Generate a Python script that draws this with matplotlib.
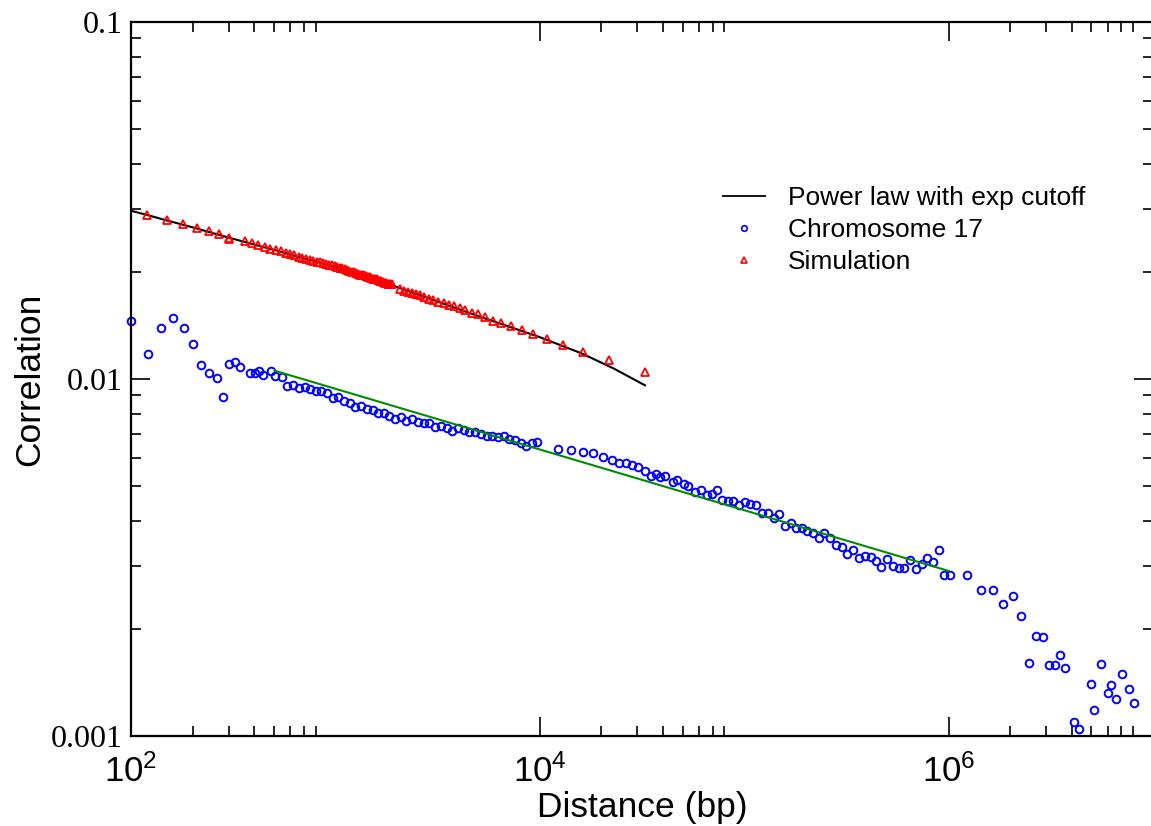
import matplotlib
matplotlib.use("Agg")
import matplotlib.pyplot as plt
from matplotlib.lines import Line2D
from matplotlib.ticker import FixedLocator, LogLocator, NullFormatter

plt.rcParams['font.family'] = ['Liberation Sans', 'DejaVu Sans']
plt.rcParams['mathtext.fontset'] = 'custom'
plt.rcParams['mathtext.rm'] = 'Liberation Sans'

# === Data ===
# power law with exponential cutoff (fit curve)
fit_curve_x = [100, 120, 150, 200, 300, 500, 1000, 2000, 5000, 10000, 16000, 23000, 32700]
fit_curve_y = [0.0296, 0.0288, 0.0278, 0.0266, 0.0249, 0.0230, 0.0206, 0.0181, 0.0150,
               0.0131, 0.0118, 0.0107, 0.0096]

# straight power-law fit through the chromosome data
green_x = [504, 1.0e6]
green_y = [0.01055, 0.0029]

# simulation
sim_x = [120, 150, 180, 210, 240, 270, 300, 303, 362, 390, 420,
         450, 480, 510, 540, 570, 600, 630, 660, 690, 720, 750, 780, 810, 840, 870,
         900, 930, 960, 990, 1020, 1050, 1080, 1110, 1140, 1170, 1200, 1230, 1260,
         1290, 1320, 1350, 1380, 1410, 1440, 1470, 1500, 1530, 1560, 1590, 1620,
         1650, 1680, 1710, 1740, 1770, 1800, 1830, 1860, 1890,
         2060, 2160, 2260, 2370, 2480, 2590, 2710, 2860, 3000, 3180, 3380, 3610,
         3810, 4050, 4300, 4640, 5000, 5410, 5920, 6480, 7220, 8150, 9300, 10800,
         13000, 16200, 21700, 32700]
sim_y = [0.0288, 0.0279, 0.0271, 0.0264, 0.0260, 0.0254, 0.0249, 0.0246, 0.0244, 0.0241, 0.0237,
         0.0235, 0.0232, 0.0230, 0.0228, 0.0226, 0.0224, 0.0222, 0.0220, 0.0218, 0.0217,
         0.0216, 0.0214, 0.0213, 0.0212, 0.0211, 0.0210, 0.0209, 0.0208, 0.0207, 0.0206,
         0.0205, 0.0204, 0.0203, 0.0202, 0.0201, 0.0200, 0.0199, 0.0198, 0.0197, 0.0196,
         0.0196, 0.0195, 0.0194, 0.0193, 0.0193, 0.0192, 0.0191, 0.0190, 0.0190, 0.0189,
         0.0188, 0.0188, 0.0187, 0.0186, 0.0186, 0.0185, 0.0185, 0.0184, 0.0184,
         0.01786, 0.01767, 0.01755, 0.01738, 0.01727, 0.01716, 0.01697, 0.01679, 0.01665,
         0.01646, 0.01629, 0.01608, 0.01598, 0.01581, 0.01560, 0.01533, 0.01517, 0.01494,
         0.01456, 0.01432, 0.01410, 0.01369, 0.01334, 0.01291, 0.01245, 0.01190, 0.01132,
         0.01048]

# chromosome 17
chr_x = [100, 121, 140, 161, 181, 202, 221, 241, 262, 282, 301, 323, 343, 381, 402, 424,
         444, 482, 504, 546, 582, 623, 664, 708, 749, 802, 848, 905, 969, 1032, 1105,
         1175, 1252, 1335, 1423, 1524, 1612, 1726, 1839, 1961, 2083, 2221, 2369, 2535,
         2701, 2871, 3083, 3300, 3503, 3737, 3986, 4246, 4529, 4810, 5129, 5491, 5856,
         6238, 6655, 7099, 7559, 8065, 8602, 9134, 9743, 12220, 14250, 16270, 18280,
         20330, 22580, 24450, 26460, 28320, 30310, 32690, 34830, 36870, 38880, 40810,
         44880, 46950, 51020, 53190, 57310, 61340, 65420, 69470, 73840, 77800, 82970,
         87810, 94280, 100600, 107300, 114800, 122300, 130500, 139200, 147700, 158100,
         168700, 178500, 191000, 202800, 217100, 231500, 246700, 263100, 281700, 300400,
         320100, 341500, 364100, 388000, 415200, 439300, 468800, 501600, 532300, 569800,
         607700, 648300, 690900, 739300, 785900, 837400, 893200, 952600, 1.0195e6,
         1.236e6, 1.441e6, 1.645e6, 1.849e6, 2.056e6, 2.266e6, 2.481e6, 2.676e6,
         2.897e6, 3.09e6, 3.307e6, 3.499e6, 3.715e6, 4.128e6, 4.338e6, 4.969e6,
         5.158e6, 5.584e6, 5.997e6, 6.203e6, 6.616e6, 7.027e6, 7.663e6, 8.08e6]
chr_y = [0.01451, 0.01175, 0.01387, 0.01479, 0.01392, 0.01251, 0.01094, 0.01039, 0.01006,
         0.00890, 0.01104, 0.01118, 0.01083, 0.01041, 0.01039, 0.01055, 0.01026, 0.01055,
         0.01018, 0.01011, 0.00958, 0.00962, 0.00945, 0.00948, 0.00938, 0.00924, 0.00926,
         0.00916, 0.00885, 0.00890, 0.00868, 0.00855, 0.00835, 0.00842, 0.00824, 0.00819,
         0.00801, 0.00801, 0.00788, 0.00771, 0.00784, 0.00764, 0.00771, 0.00758, 0.00754,
         0.00751, 0.00732, 0.00740, 0.00728, 0.00716, 0.00729, 0.00718, 0.00710, 0.00712,
         0.00702, 0.00694, 0.00694, 0.00688, 0.00692, 0.00679, 0.00676, 0.00663, 0.00648,
         0.00660, 0.00666, 0.00638, 0.00632, 0.00623, 0.00619, 0.00603, 0.00593, 0.00582,
         0.00582, 0.00574, 0.00567, 0.00551, 0.00536, 0.00541, 0.00531, 0.00536, 0.00515,
         0.00520, 0.00509, 0.00502, 0.00483, 0.00489, 0.00472, 0.00476, 0.00489, 0.00457,
         0.00456, 0.00454, 0.00444, 0.00451, 0.00447, 0.00443, 0.00421, 0.00421, 0.00409,
         0.00418, 0.00388, 0.00396, 0.00383, 0.00382, 0.00374, 0.00371, 0.00358, 0.00370,
         0.00359, 0.00343, 0.00338, 0.00324, 0.00331, 0.00316, 0.00319, 0.00317, 0.00310,
         0.00297, 0.00313, 0.00300, 0.00296, 0.00296, 0.00311, 0.00294, 0.00303, 0.00316,
         0.00307, 0.00331, 0.00283, 0.00283, 0.00282, 0.00256, 0.00256, 0.00235, 0.00247,
         0.00217, 0.00160, 0.00191, 0.00189, 0.00158, 0.00158, 0.00169, 0.00155, 0.001094,
         0.001048, 0.001396, 0.00118, 0.001588, 0.001322, 0.001392, 0.001272, 0.001489,
         0.001357, 0.001234]

x_major = [1e2, 1e4, 1e6]
x_tick_labels = [r'$\mathrm{10^{2}}$', r'$\mathrm{10^{4}}$', r'$\mathrm{10^{6}}$']
y_major = [0.001, 0.01, 0.1]
y_tick_labels = ['0.001', '0.01', '0.1']

# === Plot ===
W, H = 1151, 826
fig = plt.figure(figsize=(W / 100, H / 100), dpi=100)
ax = fig.add_axes([131 / W, 1 - 736 / H, (1153 - 131) / W, (736 - 22) / H])

ax.plot(fit_curve_x, fit_curve_y, '-', color='black', lw=1.5, zorder=3)
ax.plot(green_x, green_y, '-', color='#008c00', lw=1.5, zorder=3)
ax.plot(chr_x, chr_y, 'o', ls='none', mfc='none', mec='blue', ms=5.5, mew=1.4,
        clip_on=False, zorder=2)
ax.plot(sim_x, sim_y, '^', ls='none', mfc='none', mec='red', ms=6, mew=1.3,
        clip_on=False, zorder=4)

ax.set_xscale('log')
ax.set_yscale('log')
ax.set_xlim(1e2, 1e7)
ax.set_ylim(1e-3, 1e-1)

ax.set_xticks(x_major)
ax.set_xticklabels(x_tick_labels, fontsize=25)
ax.xaxis.set_minor_locator(FixedLocator([m * 10.0 ** d for d in (2, 4, 6) for m in range(2, 9)]))
ax.xaxis.set_minor_formatter(NullFormatter())
ax.set_yticks(y_major)
ax.set_yticklabels(y_tick_labels, fontsize=23, fontfamily='Liberation Serif')
ax.yaxis.set_minor_locator(LogLocator(base=10, subs=range(2, 10)))
ax.yaxis.set_minor_formatter(NullFormatter())

ax.tick_params(which='both', direction='in', top=True, right=True, width=1.2)
ax.tick_params(which='major', length=14)
ax.tick_params(which='minor', length=7)
ax.tick_params(axis='y', pad=6)
ax.tick_params(axis='x', pad=13)
for sp in ax.spines.values():
    sp.set_linewidth(1.6)

ax.set_xlabel('Distance (bp)', fontsize=25.5, labelpad=2)
ax.set_ylabel('Correlation', fontsize=25.5, labelpad=3)

handles = [
    Line2D([], [], color='black', lw=1.3),
    Line2D([], [], ls='none', marker='o', mfc='none', mec='blue', ms=4, mew=1.2),
    Line2D([], [], ls='none', marker='^', mfc='none', mec='red', ms=4, mew=1.2),
]
labels = ['Power law with exp cutoff', 'Chromosome 17', 'Simulation']
ax.legend(handles, labels, loc='upper left', bbox_to_anchor=(723 / W, 1 - 186 / H),
          bbox_transform=fig.transFigure, frameon=False, fontsize=19,
          handlelength=1.6, handletextpad=0.85, labelspacing=0.3,
          borderpad=0, borderaxespad=0)

plt.savefig('out.png', dpi=100)
